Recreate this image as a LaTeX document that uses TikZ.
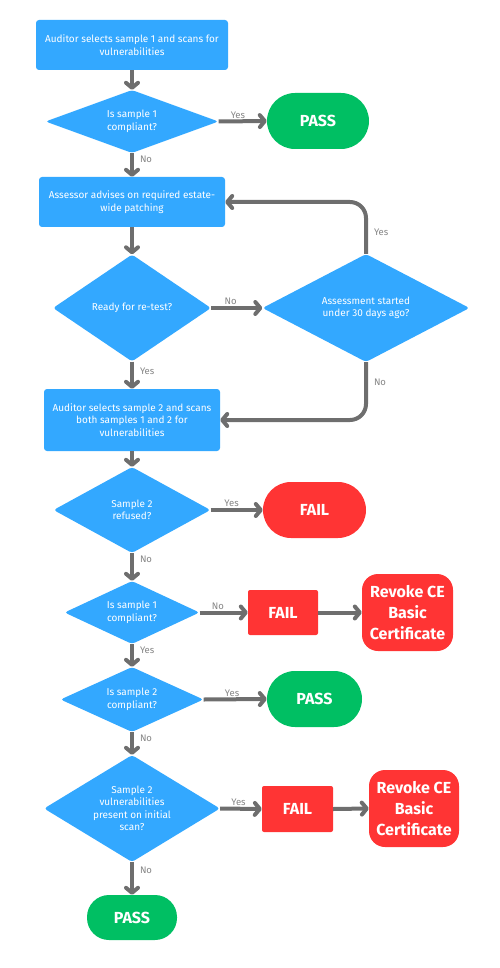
\documentclass[tikz,border=0pt]{standalone}
\usepackage{fontspec}
\setmainfont{Fira Sans}
\usetikzlibrary{shapes.geometric}
\usetikzlibrary{arrows.meta}
\definecolor{boxblue}{HTML}{33A8FF}
\definecolor{passgreen}{HTML}{00BF63}
\definecolor{failred}{HTML}{FF3434}
\definecolor{linegray}{HTML}{6E6E6E}
\definecolor{labelgray}{HTML}{858585}

\begin{document}
\begin{tikzpicture}[x=1pt,y=-1pt,
  box/.style={rectangle, rounded corners=3pt, fill=boxblue, text=white, align=center,
    font=\fontsize{10}{12.5}\selectfont, inner sep=0},
  decision/.style={diamond, shape aspect=1.5, rounded corners=3pt, fill=boxblue, text=white,
    align=center, font=\fontsize{10}{12.5}\selectfont, inner sep=0},
  term/.style={rectangle, text=white, align=center, inner sep=2pt,
    font=\bfseries\fontsize{16}{20.7}\selectfont},
  pass/.style={term, fill=passgreen},
  fail/.style={term, fill=failred},
  arrow/.style={draw=linegray, line width=4pt, -{Straight Barb[length=5pt,width=12pt,round]}},
  lbl/.style={text=labelgray, font=\fontsize{9.5}{11}\selectfont, inner sep=1pt}]

\useasboundingbox (0,0) rectangle (500,968);

% main column
\node [box, minimum width=192pt, minimum height=50pt] (sel1) at (132,45) {Auditor selects sample 1 and scans for\\vulnerabilities};
\node [decision, minimum width=173pt, minimum height=63pt] (comp1) at (132,121.5) {Is sample 1\\compliant?};
\node [box, minimum width=186pt, minimum height=50pt] (advise) at (132,202) {Assessor advises on required estate-\\wide patching};
\node [decision, minimum width=158pt, minimum height=107pt] (retest) at (132,308) {Ready for re-test?};
\node [box, minimum width=176pt, minimum height=62pt] (sel2) at (132,420) {Auditor selects sample 2 and scans\\both samples 1 and 2 for\\vulnerabilities};
\node [decision, minimum width=157pt, minimum height=86pt] (refused) at (132,510) {Sample 2\\refused?};
\node [decision, minimum width=135pt, minimum height=63pt] (recomp1) at (132,612.5) {Is sample 1\\compliant?};
\node [decision, minimum width=143pt, minimum height=65pt] (comp2) at (132,699.5) {Is sample 2\\compliant?};
\node [decision, minimum width=176pt, minimum height=107pt] (initial) at (132,808.5) {Sample 2\\vulnerabilities\\present on initial\\scan?};
\node [pass, minimum width=90pt, minimum height=45pt, rounded corners=22pt] (pass3) at (132,917.5) {PASS};

% right side
\node [pass, minimum width=102pt, minimum height=56pt, rounded corners=28pt] (pass1) at (318,121) {PASS};
\node [decision, minimum width=207pt, minimum height=108pt] (days) at (366,308) {Assessment started\\under 30 days ago?};
\node [fail, minimum width=103pt, minimum height=56pt, rounded corners=28pt] (fail1) at (314.5,510) {FAIL};
\node [fail, minimum width=70pt, minimum height=45pt, rounded corners=2pt] (fail2) at (283,612.5) {FAIL};
\node [fail, minimum width=91pt, minimum height=77pt, rounded corners=16pt] (revoke1) at (407.5,612.5) {Revoke CE\\Basic\\Certificate};
\node [pass, minimum width=95pt, minimum height=56pt, rounded corners=28pt] (pass2) at (314.5,699) {PASS};
\node [fail, minimum width=71pt, minimum height=46pt, rounded corners=2pt] (fail3) at (297.5,809) {FAIL};
\node [fail, minimum width=90pt, minimum height=77pt, rounded corners=16pt] (revoke2) at (414,808.5) {Revoke CE\\Basic\\Certificate};

\draw [arrow] (sel1.south) -- (comp1.north);
\draw [arrow] (comp1.east) -- node [lbl, above, pos=0.4] {Yes} (pass1.west);
\draw [arrow] (comp1.south) -- node [lbl, right=5pt, pos=0.25] {No} (advise.north);
\draw [arrow] (advise.south) -- (retest.north);
\draw [arrow] (retest.east) -- node [lbl, above, pos=0.38] {No} (days.west);
\draw [arrow, rounded corners=16pt] (days.north) |- node [lbl, right=5pt, pos=0.21] {Yes} (advise.east);
\draw [arrow, rounded corners=16pt] (days.south) |- node [lbl, right=5pt, pos=0.17] {No} (sel2.east);
\draw [arrow] (retest.south) -- node [lbl, right=5pt, pos=0.36] {Yes} (sel2.north);
\draw [arrow] (sel2.south) -- (refused.north);
\draw [arrow] (refused.east) -- node [lbl, above, pos=0.4] {Yes} (fail1.west);
\draw [arrow] (refused.south) -- node [lbl, right=5pt, pos=0.22] {No} (recomp1.north);
\draw [arrow] (recomp1.east) -- node [lbl, above, pos=0.38] {No} (fail2.west);
\draw [arrow] (fail2.east) -- (revoke1.west);
\draw [arrow] (recomp1.south) -- node [lbl, right=5pt, pos=0.25] {Yes} (comp2.north);
\draw [arrow] (comp2.east) -- node [lbl, above, pos=0.45] {Yes} (pass2.west);
\draw [arrow] (comp2.south) -- node [lbl, right=5pt, pos=0.25] {No} (initial.north);
\draw [arrow] (initial.east) -- node [lbl, above, pos=0.44] {Yes} (fail3.west);
\draw [arrow] (fail3.east) -- (revoke2.west);
\draw [arrow] (initial.south) -- node [lbl, right=5pt, pos=0.24] {No} (pass3.north);
\end{tikzpicture}
\end{document}
